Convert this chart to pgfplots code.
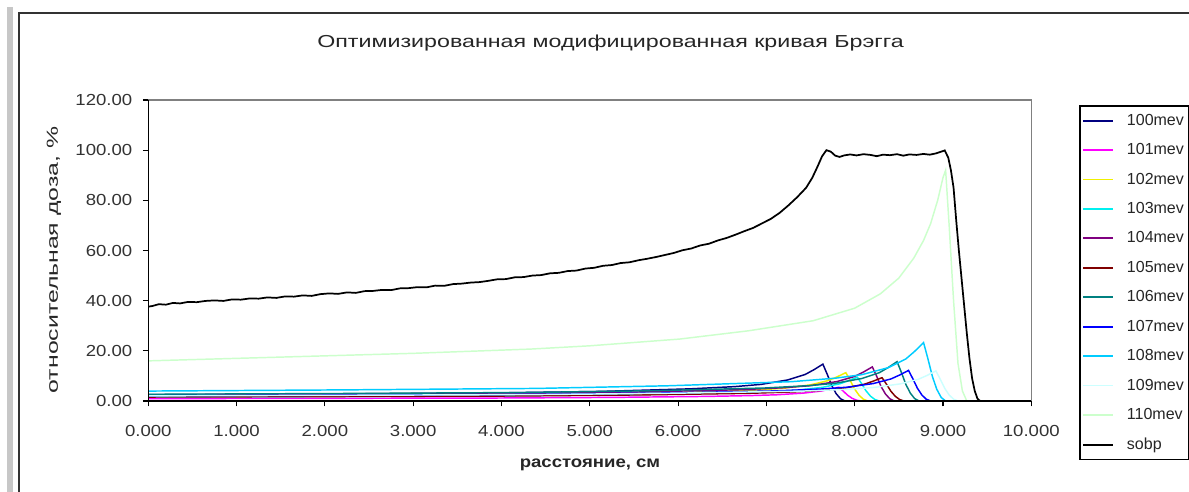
\documentclass[border=0pt]{standalone}
\usepackage{pgfplots}
\pgfplotsset{compat=1.18}
\usepackage{fontspec}
\setmainfont{Liberation Sans}[FakeStretch=1.16]
\newfontfamily\titlefont{Liberation Sans}[FakeStretch=1.34]
\newfontfamily\ylabfont{Liberation Sans}
\usepackage{graphicx}
\definecolor{c100}{RGB}{0,0,128}
\definecolor{c101}{RGB}{255,0,255}
\definecolor{c102}{RGB}{240,240,0}
\definecolor{c103}{RGB}{0,240,240}
\definecolor{c104}{RGB}{128,0,128}
\definecolor{c105}{RGB}{128,0,0}
\definecolor{c106}{RGB}{0,128,128}
\definecolor{c107}{RGB}{0,0,255}
\definecolor{c108}{RGB}{0,204,255}
\definecolor{c109}{RGB}{204,255,255}
\definecolor{c110}{RGB}{204,255,204}
\begin{document}
\begin{tikzpicture}
\useasboundingbox (0,0) rectangle (891.75pt,369pt);
\clip (0,0) rectangle (891.75pt,369pt);
\fill[white] (0,0) rectangle (891.75pt,369pt);
\fill[black!22] (5.5pt,0) rectangle (9.5pt,364pt);
\draw[line width=1.5pt, black!80] (14.6pt,-10pt) -- (14.6pt,359pt) -- (950pt,359pt);
\begin{axis}[
  at={(111.2pt,68.25pt)}, anchor=south west,
  scale only axis, width=662.25pt, height=225.75pt,
  xmin=0, xmax=10, ymin=0, ymax=120,
  xtick={0,1,...,10}, ytick={0,20,...,120},
  axis line style={draw=none},
  tick align=outside, major tick length=4pt,
  xtick pos=bottom, ytick pos=left,
  tick style={black, line width=0.8pt},
  every tick label/.append style={font=\fontsize{12pt}{14pt}\selectfont, text=black!80},
  x tick label style={yshift=-10.5pt, /pgf/number format/.cd, fixed, fixed zerofill, precision=3, assume math mode=true},
  y tick label style={xshift=-4.5pt, /pgf/number format/.cd, fixed, fixed zerofill, precision=2, assume math mode=true},
  legend style={at={(1.054,0.983)}, anchor=north west, draw=black, line width=1.3pt,
    font=\ylabfont\fontsize{12pt}{14pt}\selectfont, text=black!85, row sep=8.2pt, inner xsep=2pt, inner ysep=4pt},
  legend cell align=left,
  legend image code/.code={\draw[line width=1.4pt] (0pt,0pt) -- (22.5pt,0pt); \path (30pt,0pt);},
  clip=false,
]
\addplot[draw=c100, line width=1.1pt] coordinates {(0,2.50) (1.91,2.79) (3.82,3.16) (5.12,3.82) (6.14,4.85) (6.64,5.73) (6.94,6.62) (7.24,8.38) (7.44,10.58) (7.54,12.50) (7.64,14.70) (7.69,10.58) (7.74,6.17) (7.79,2.94) (7.84,0.88) (7.89,0)};
\addplot[draw=c101, line width=1.1pt] coordinates {(0,0.94) (1.96,1.05) (3.91,1.18) (5.24,1.43) (6.32,1.82) (6.82,2.15) (7.12,2.48) (7.42,3.14) (7.62,3.96) (7.72,4.68) (7.82,5.50) (7.87,3.96) (7.92,2.31) (7.97,1.10) (8.02,0.33) (8.07,0)};
\addplot[draw=c102, line width=1.1pt] coordinates {(0,1.92) (1.98,2.15) (3.95,2.43) (5.29,2.94) (6.40,3.73) (6.90,4.41) (7.20,5.09) (7.50,6.44) (7.70,8.14) (7.80,9.61) (7.90,11.30) (7.95,8.14) (8.00,4.75) (8.05,2.26) (8.10,0.68) (8.15,0)};
\addplot[draw=c103, line width=1.1pt] coordinates {(0,1.62) (2.01,1.81) (4.02,2.04) (5.38,2.47) (6.53,3.14) (7.03,3.71) (7.33,4.28) (7.63,5.42) (7.83,6.84) (7.93,8.08) (8.03,9.50) (8.08,6.84) (8.13,3.99) (8.18,1.90) (8.23,0.57) (8.28,0)};
\addplot[draw=c104, line width=1.1pt] coordinates {(0,2.31) (2.05,2.58) (4.10,2.92) (5.49,3.54) (6.70,4.49) (7.20,5.30) (7.50,6.12) (7.80,7.75) (8.00,9.79) (8.10,11.56) (8.20,13.60) (8.25,9.79) (8.30,5.71) (8.35,2.72) (8.40,0.82) (8.45,0)};
\addplot[draw=c105, line width=1.1pt] coordinates {(0,1.58) (2.08,1.77) (4.16,2.00) (5.57,2.42) (6.81,3.07) (7.31,3.63) (7.61,4.19) (7.91,5.30) (8.11,6.70) (8.21,7.91) (8.31,9.30) (8.36,6.70) (8.41,3.91) (8.46,1.86) (8.51,0.56) (8.56,0)};
\addplot[draw=c106, line width=1.1pt] coordinates {(0,2.67) (2.12,2.98) (4.24,3.38) (5.68,4.08) (6.98,5.18) (7.48,6.12) (7.78,7.07) (8.08,8.95) (8.28,11.30) (8.38,13.35) (8.48,15.70) (8.53,11.30) (8.58,6.59) (8.63,3.14) (8.68,0.94) (8.73,0)};
\addplot[draw=c107, line width=1.1pt] coordinates {(0,2.07) (2.15,2.32) (4.31,2.62) (5.77,3.17) (7.11,4.03) (7.61,4.76) (7.91,5.49) (8.21,6.95) (8.41,8.78) (8.51,10.37) (8.61,12.20) (8.66,8.78) (8.71,5.12) (8.76,2.44) (8.81,0.73) (8.86,0)};
\addplot[draw=c108, line width=1.1pt] coordinates {(0,3.96) (2.20,4.43) (4.39,5.01) (5.88,6.06) (7.28,7.69) (7.78,9.09) (8.08,10.49) (8.38,13.28) (8.58,16.78) (8.68,19.81) (8.78,23.30) (8.83,16.78) (8.88,9.79) (8.93,4.66) (8.98,1.40) (9.03,0)};
\addplot[draw=c109, line width=1.1pt] coordinates {(0,2.04) (2.23,2.28) (4.46,2.58) (5.98,3.12) (7.42,3.96) (7.92,4.68) (8.22,5.40) (8.52,6.84) (8.72,8.64) (8.82,10.20) (8.92,12.00) (8.97,8.64) (9.02,5.04) (9.07,2.40) (9.12,0.72) (9.17,0)};
\addplot[draw=c110, line width=1.1pt] coordinates {(0,16.0) (1,17.0) (2,18.0) (3,19.0) (4.33,20.7) (5,22.0) (6.02,24.7) (6.8,28.0) (7.53,32.0) (8.0,37.0) (8.29,42.7) (8.5,49.0) (8.67,57.0) (8.78,64.0) (8.86,70.7) (8.94,80.0) (9.0,89.0) (9.03,92.0) (9.07,70.0) (9.12,40.0) (9.17,15.0) (9.22,4.0) (9.27,0)};
\addplot[draw=black, line width=1.3pt] coordinates {(0,37.6) (0.05,37.9) (0.12,38.6) (0.2,38.4) (0.28,39.1) (0.36,38.9) (0.45,39.5) (0.55,39.4) (0.65,39.9) (0.75,40.1) (0.85,39.9) (0.95,40.5) (1.05,40.4) (1.15,40.9) (1.25,40.8) (1.35,41.3) (1.45,41.1) (1.55,41.7) (1.65,41.6) (1.75,42.1) (1.85,41.9) (1.95,42.6) (2.05,42.9) (2.15,42.7) (2.25,43.3) (2.35,43.1) (2.45,43.8) (2.55,43.9) (2.65,44.3) (2.75,44.2) (2.85,44.9) (2.95,45.0) (3.05,45.4) (3.15,45.3) (3.25,46.0) (3.35,45.9) (3.45,46.6) (3.55,46.8) (3.65,47.2) (3.75,47.4) (3.85,47.9) (3.95,48.5) (4.05,48.6) (4.15,49.3) (4.25,49.4) (4.35,50.0) (4.45,50.2) (4.55,50.9) (4.65,51.1) (4.75,51.8) (4.85,52.0) (4.95,52.8) (5.05,53.1) (5.15,53.9) (5.25,54.2) (5.35,55.0) (5.45,55.3) (5.55,56.1) (5.65,56.7) (5.75,57.4) (5.85,58.2) (5.95,59.0) (6.05,60.1) (6.15,60.8) (6.25,62.0) (6.35,62.7) (6.45,64.0) (6.55,65.0) (6.65,66.3) (6.75,67.7) (6.85,69.0) (6.95,70.8) (7.05,72.6) (7.15,75.0) (7.25,78.0) (7.35,81.3) (7.45,85.0) (7.52,89.0) (7.58,93.5) (7.63,97.5) (7.68,100.0) (7.73,99.4) (7.78,97.8) (7.83,97.3) (7.88,97.9) (7.95,98.3) (8.02,97.9) (8.1,98.4) (8.18,98.1) (8.25,97.6) (8.32,98.2) (8.4,98.0) (8.48,98.4) (8.55,97.8) (8.62,98.3) (8.7,98.1) (8.78,98.5) (8.85,98.2) (8.92,98.7) (8.97,99.3) (9.02,99.9) (9.06,97.0) (9.09,92.0) (9.12,85.0) (9.15,72.0) (9.18,60.0) (9.21,49.0) (9.24,38.0) (9.27,27.0) (9.3,17.0) (9.33,9.0) (9.36,4.0) (9.39,1.0) (9.42,0)};
\legend{100mev,101mev,102mev,103mev,104mev,105mev,106mev,107mev,108mev,109mev,110mev,sobp}
\draw[black!50, line width=0.8pt] (rel axis cs:0,1) -- (rel axis cs:1,1) -- (rel axis cs:1,0);
\draw[black, line width=1pt] (rel axis cs:0,1) -- (rel axis cs:0,0) -- (rel axis cs:1,0);
\end{axis}
\node[font=\titlefont\fontsize{13pt}{15pt}\selectfont, text=black!85] at (457.9pt,336.75pt) {Оптимизированная модифицированная кривая Брэгга};
\node[font=\bfseries\fontsize{12pt}{14pt}\selectfont, text=black!85] at (442.5pt,20.25pt) {расстояние, см};
\node[font=\ylabfont\fontsize{12pt}{14pt}\selectfont, text=black!85, rotate=90] at (40.5pt,174pt) {\scalebox{1.55}[1]{относительная доза, \%}};
\end{tikzpicture}
\end{document}
